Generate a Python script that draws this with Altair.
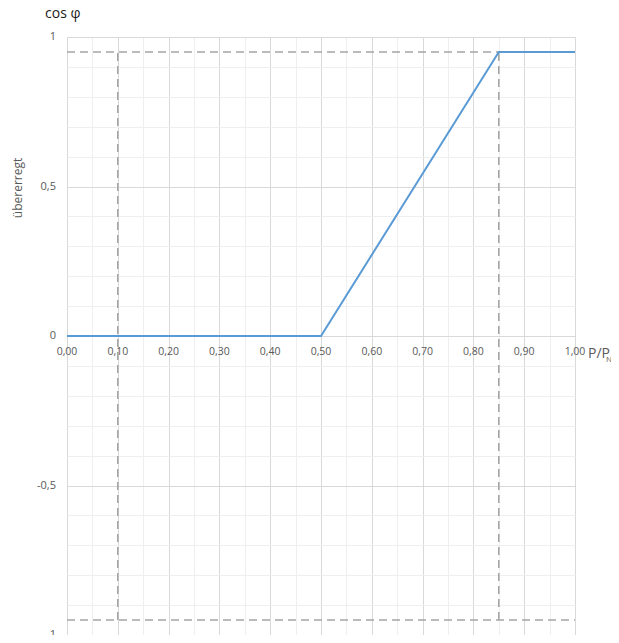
import altair as alt
import pandas as pd

# blue characteristic curve
curve_x = [0.0, 0.5, 0.85, 1.0]
curve_y = [0.0, 0.0, 0.95, 0.95]

# dashed reference lines
vlines_x = [0.10, 0.85]
vlines_y1 = [-0.95, -0.95]
vlines_y2 = [0.95, 0.95]
hlines_y = [0.95, -0.95]
hlines_x1 = [0.0, 0.0]
hlines_x2 = [1.0, 1.0]

# ticks / labels
x_ticks = [0.0, 0.1, 0.2, 0.3, 0.4, 0.5, 0.6, 0.7, 0.8, 0.9, 1.0]
x_labels = ["0,00", "0,10", "0,20", "0,30", "0,40", "0,50", "0,60", "0,70", "0,80", "0,90", "1,00"]
y_ticks = [1.0, 0.5, 0.0, -0.5, -1.0]
y_labels = ["1", "0,5", "0", "-0,5", "-1"]
x_grid = [round(i / 20, 2) for i in range(21)]
y_grid = [round(-1 + i / 10, 2) for i in range(21)]

FONT = "Open Sans"
GRAY = "#595959"
MAJOR = "#D9D9D9"
MINOR = "#EFEFEF"

xs = alt.Scale(domain=[0, 1], nice=False, zero=False)
ys = alt.Scale(domain=[-1, 1], nice=False, zero=False)

curve_df = pd.DataFrame({"x": curve_x, "y": curve_y})
vdf = pd.DataFrame({"x": vlines_x, "y1": vlines_y1, "y2": vlines_y2})
hdf = pd.DataFrame({"y": hlines_y, "x1": hlines_x1, "x2": hlines_x2})
xl_df = pd.DataFrame({"x": x_ticks, "label": x_labels, "y": [0.0] * len(x_ticks)})
yl_df = pd.DataFrame({"y": y_ticks, "label": y_labels})

x_axis = alt.Axis(
    values=x_grid, tickCount=100, grid=True, labels=False, ticks=False, domain=False, title=None,
    gridColor={"condition": {"test": "abs(datum.value*10 - round(datum.value*10)) < 0.001", "value": MAJOR},
               "value": MINOR},
    gridWidth=1,
)
y_axis = alt.Axis(
    values=y_grid, tickCount=100, grid=True, labels=False, ticks=False, domain=False, title=None,
    gridColor={"condition": {"test": "abs(datum.value*2 - round(datum.value*2)) < 0.001", "value": MAJOR},
               "value": MINOR},
    gridWidth=1,
)

base_grid = alt.Chart(curve_df).mark_line(opacity=0).encode(
    x=alt.X("x:Q", scale=xs, axis=x_axis),
    y=alt.Y("y:Q", scale=ys, axis=y_axis),
)

vl = alt.Chart(vdf).mark_rule(color="#A5A5A5", strokeWidth=1.6, strokeDash=[8, 5]).encode(
    x="x:Q", y="y1:Q", y2="y2:Q"
)
hl = alt.Chart(hdf).mark_rule(color="#A5A5A5", strokeWidth=1.6, strokeDash=[8, 5]).encode(
    y="y:Q", x="x1:Q", x2="x2:Q"
)

line = alt.Chart(curve_df).mark_line(color="#5B9BD5", strokeWidth=2).encode(
    x="x:Q", y="y:Q"
)

xlab = alt.Chart(xl_df).mark_text(font=FONT, fontSize=10.5, color=GRAY, dy=16, align="center").encode(
    x="x:Q", y="y:Q", text="label:N"
)
ylab = alt.Chart(yl_df).mark_text(font=FONT, fontSize=11, color=GRAY, align="right", baseline="middle").encode(
    x=alt.value(-11), y="y:Q", text="label:N"
)

title_y = alt.Chart(pd.DataFrame({"t": ["übererregt"]})).mark_text(
    font=FONT, fontSize=12, color=GRAY, angle=270, align="center", baseline="middle"
).encode(x=alt.value(-49), y=alt.value(151), text="t:N")

title_top = alt.Chart(pd.DataFrame({"t": ["cos φ"]})).mark_text(
    font=FONT, fontSize=14, color="#1A1A1A", align="left", baseline="alphabetic"
).encode(x=alt.value(-22), y=alt.value(-19), text="t:N")

pp = alt.Chart(pd.DataFrame({"t": ["P/P"]})).mark_text(
    font=FONT, fontSize=14, color=GRAY, align="left", baseline="middle"
).encode(x=alt.value(521), y=alt.value(317), text="t:N")
pn = alt.Chart(pd.DataFrame({"t": ["N"]})).mark_text(
    font=FONT, fontSize=8, color=GRAY, align="left", baseline="middle"
).encode(x=alt.value(539), y=alt.value(323), text="t:N")

chart = alt.layer(base_grid, vl, hl, line, xlab, ylab, title_y, title_top, pp, pn).properties(
    width=508, height=598,
    padding={"left": 59, "top": 29, "right": 36, "bottom": 0},
    autosize=alt.AutoSizeParams(type="none"),
).configure_view(stroke=None).configure(background="white")

chart.save("out.html", embed_options={"renderer": "svg", "actions": False})
